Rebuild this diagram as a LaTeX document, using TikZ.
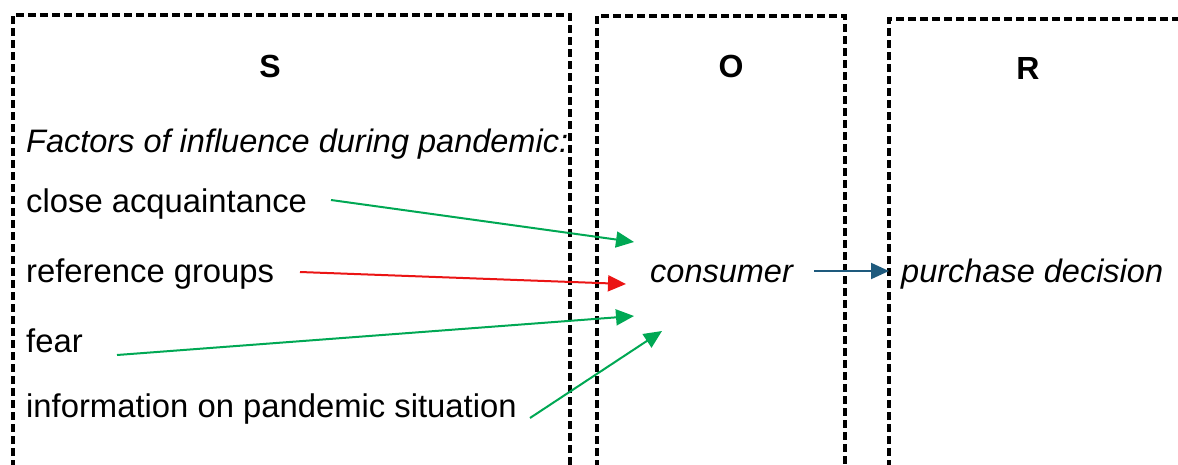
\documentclass[tikz,border=0pt]{standalone}
\usepackage{fontspec}
\setmainfont{Liberation Sans}
\usetikzlibrary{arrows.meta}
\definecolor{arrgreen}{RGB}{0,168,84}
\definecolor{arrred}{RGB}{235,20,20}
\definecolor{arrblue}{RGB}{30,90,125}
\tikzset{
  panel/.style={draw=black, line width=3.6pt, dash pattern=on 8pt off 4pt},
  head/.style={font=\fontsize{32}{36}\selectfont\bfseries, anchor=center},
  item/.style={font=\fontsize{32.8}{36}\selectfont, anchor=west, inner sep=0pt},
  itemit/.style={font=\fontsize{32.5}{36}\selectfont\itshape, anchor=west, inner sep=0pt},
  link/.style={line width=2pt, -{Triangle[length=18pt,width=16pt]}},
}
\begin{document}
\begin{tikzpicture}[x=1pt,y=-1pt]
\useasboundingbox (0,0) rectangle (1178,464);
\fill[white] (0,0) rectangle (1178,464);
\clip (0,0) rectangle (1178,464);

% the three S-O-R panels
\draw[panel] (13,480) -- (13,15) -- (570,15) -- (570,480);
\draw[panel] (597,480) -- (597,16) -- (845,16) -- (845,480);
\draw[panel] (889,480) -- (889,19) -- (1200,19);

% panel headings
\node[head] (s) at (270,66) {S};
\node[head] (o) at (731,66) {O};
\node[head] (r) at (1028,68) {R};

% stimulus factors
\node[itemit] (factors) at (26,144) {Factors of influence during pandemic:};
\node[item] (ca)   at (26,204) {close acquaintance};
\node[item] (rg)   at (26,274) {reference groups};
\node[item] (fear) at (26,341) {fear};
\node[item] (info) at (26,409) {information on pandemic situation};

% organism and response
\node[itemit] (cons) at (650,274) {consumer};
\node[itemit] (pd)   at (901,274) {purchase decision};

% arrow end points
\coordinate (caS) at (331,200);
\coordinate (caT) at (634,242);
\coordinate (rgS) at (300,272);
\coordinate (rgT) at (626,284);
\coordinate (feS) at (117,355);
\coordinate (feT) at (634,316);
\coordinate (inS) at (530,418);
\coordinate (inT) at (662,331);
\coordinate (cE)  at (814,271);
\coordinate (pdW) at (889,271);

\draw[link, arrgreen] (caS) -- (caT);
\draw[link, arrred]   (rgS) -- (rgT);
\draw[link, arrgreen] (feS) -- (feT);
\draw[link, arrgreen] (inS) -- (inT);
\draw[link, arrblue]  (cE) -- (pdW);
\end{tikzpicture}
\end{document}
